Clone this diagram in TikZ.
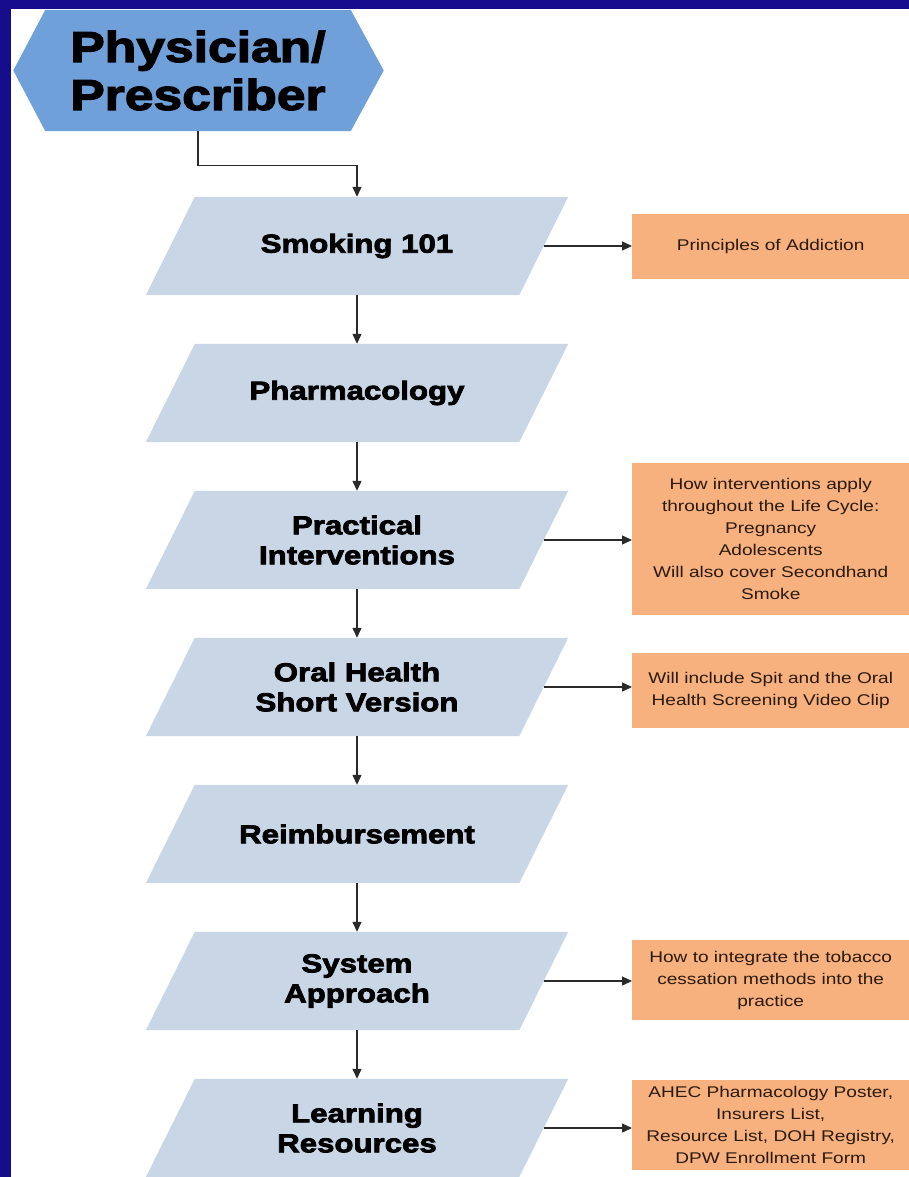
\documentclass[tikz,border=0pt]{standalone}
\usepackage{fontspec}
\setmainfont{Liberation Sans}
\newfontfamily\wideSans{Liberation Sans}[FakeStretch=1.2, BoldFeatures={FakeBold=3}]
\newfontfamily\noteSans{Liberation Sans}[FakeStretch=1.23]
\usetikzlibrary{backgrounds,arrows.meta}
\definecolor{navy}{HTML}{160C8C}
\definecolor{hexfill}{HTML}{6FA0DA}
\definecolor{parafill}{HTML}{C9D6E6}
\definecolor{notefill}{HTML}{F7B17E}
\definecolor{notetext}{HTML}{2B1A0E}
\definecolor{linegray}{HTML}{2A2A2A}
\begin{document}
\begin{tikzpicture}[x=1pt,y=-1pt,
  hexbox/.style={minimum width=305pt, minimum height=121pt, inner sep=0pt, align=center,
    font=\wideSans\bfseries\fontsize{43}{48}\selectfont, text=black},
  parabox/.style={minimum width=373pt, minimum height=98pt, inner sep=0pt, align=center,
    font=\wideSans\bfseries\fontsize{26}{30}\selectfont, text=black},
  notebox/.style={fill=notefill, anchor=west, minimum width=277pt, inner sep=0pt, align=center,
    font=\noteSans\fontsize{15.5}{22}\selectfont, text=notetext},
  conn/.style={draw=linegray, line width=1.3pt, -{Triangle[length=10pt,width=9pt]}}
]
\useasboundingbox (0,0) rectangle (909,1177);

% hexagon
\node[hexbox] (hex) at (198,70.5) {Physician/\\Prescriber};

% parallelograms
\node[parabox] (p1) at (357,246) {Smoking 101};
\node[parabox] (p2) at (357,393) {Pharmacology};
\node[parabox] (p3) at (357,540) {Practical\\Interventions};
\node[parabox] (p4) at (357,687) {Oral Health\\Short Version};
\node[parabox] (p5) at (357,834) {Reimbursement};
\node[parabox] (p6) at (357,981) {System\\Approach};
\node[parabox] (p7) at (357,1128) {Learning\\Resources};

% notes
\node[notebox, minimum height=65pt] (o1) at (632,246.5) {Principles of Addiction};
\node[notebox, minimum height=152pt] (o3) at (632,539) {How interventions apply\\throughout the Life Cycle:\\Pregnancy\\Adolescents\\Will also cover Secondhand\\Smoke};
\node[notebox, minimum height=75pt] (o4) at (632,690.5) {Will include Spit and the Oral\\Health Screening Video Clip};
\node[notebox, minimum height=80pt] (o6) at (632,980) {How to integrate the tobacco\\cessation methods into the\\practice};
\node[notebox, minimum height=90pt] (o7) at (632,1125) {AHEC Pharmacology Poster,\\Insurers List,\\Resource List, DOH Registry,\\DPW Enrollment Form};

\begin{scope}[on background layer]
  \fill[navy] (0,0) rectangle (909,1177);
  \fill[white] (11,9) rectangle (909,1177);
  \fill[hexfill] (hex.north west) -- (hex.north east) -- ([xshift=33pt]hex.east)
     -- (hex.south east) -- (hex.south west) -- ([xshift=-32pt]hex.west) -- cycle;
  \foreach \p in {p1,p2,p3,p4,p5,p6,p7}{
    \fill[parafill] ([xshift=24.5pt]\p.north west) -- ([xshift=24.5pt]\p.north east)
      -- ([xshift=-24.5pt]\p.south east) -- ([xshift=-24.5pt]\p.south west) -- cycle;
  }
\end{scope}

% connectors
\draw[conn] (hex.south) -- ++(0,34) -| (p1.north);
\draw[conn] (p1.south) -- (p2.north);
\draw[conn] (p2.south) -- (p3.north);
\draw[conn] (p3.south) -- (p4.north);
\draw[conn] (p4.south) -- (p5.north);
\draw[conn] (p5.south) -- (p6.north);
\draw[conn] (p6.south) -- (p7.north);

\draw[conn] (p1.east) -- (p1.east -| o1.west);
\draw[conn] (p3.east) -- (p3.east -| o3.west);
\draw[conn] (p4.east) -- (p4.east -| o4.west);
\draw[conn] (p6.east) -- (p6.east -| o6.west);
\draw[conn] (p7.east) -- (p7.east -| o7.west);
\end{tikzpicture}
\end{document}
